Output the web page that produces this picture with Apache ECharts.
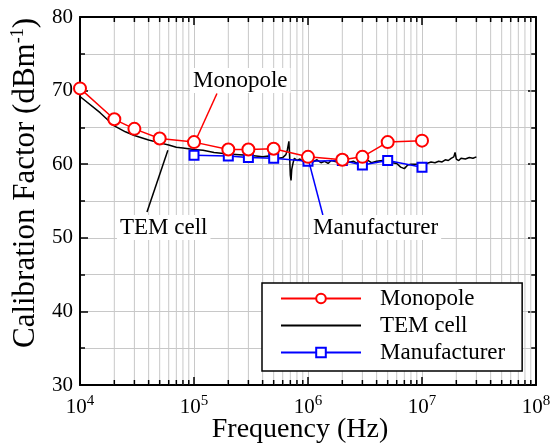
<!DOCTYPE html>
<html>
<head>
<meta charset="utf-8">
<script src="https://cdn.jsdelivr.net/npm/echarts@6/dist/echarts.min.js"></script>
<style>
html,body{margin:0;padding:0;background:#fff;}
#chart{width:553px;height:448px;}
</style>
</head>
<body>
<div id="chart"></div>
<script>
// ---- Data ----
const seriesNames = ['Monopole', 'TEM cell', 'Manufacturer'];

const monoFreq = [1e4, 2e4, 3e4, 5e4, 1e5, 2e5, 3e5, 5e5, 1e6, 2e6, 3e6, 5e6, 1e7];
const monoVal  = [70.3, 66.1, 64.8, 63.5, 63.0, 62.0, 62.0, 62.1, 61.0, 60.6, 61.0, 63.0, 63.2];

const manuFreq = [1e5, 2e5, 3e5, 5e5, 1e6, 2e6, 3e6, 5e6, 1e7];
const manuVal  = [61.2, 61.1, 60.9, 60.8, 60.4, 60.5, 59.9, 60.5, 59.6];

const temFreq = [1e4, 1.5e4, 2e4, 2.5e4, 3e4, 4e4, 5e4, 6e4, 7e4, 8e4, 1e5, 1.2e5, 1.5e5, 2e5, 2.5e5,
  3e5, 3.5e5, 4e5, 4.5e5, 5e5, 5.5e5, 6e5, 6.4e5, 6.6e5, 6.8e5, 6.9e5, 7.0e5, 7.1e5, 7.2e5, 7.4e5,
  7.6e5, 8e5, 8.5e5, 9e5, 1e6, 1.1e6, 1.2e6, 1.3e6, 1.4e6, 1.5e6, 1.6e6, 1.8e6, 2e6, 2.2e6, 2.5e6,
  2.7e6, 3e6, 3.3e6, 3.6e6, 4e6, 4.5e6, 5e6, 5.5e6, 6e6, 6.5e6, 7e6, 7.5e6, 8e6, 9e6, 1e7,
  1.1e7, 1.2e7, 1.3e7, 1.4e7, 1.5e7, 1.6e7, 1.7e7, 1.8e7, 1.9e7, 1.95e7, 2.0e7, 2.1e7, 2.2e7, 2.4e7,
  2.6e7, 2.8e7, 3e7];
const temVal = [69.2, 67.0, 65.2, 64.4, 63.9, 63.3, 62.9, 62.6, 62.3, 62.2, 62.0, 61.9, 61.6, 61.4, 61.3,
  61.2, 61.1, 61.0, 61.1, 60.9, 60.8, 60.9, 61.3, 62.0, 63.1, 61.0, 58.5, 57.8, 59.3, 60.2,
  60.8, 60.5, 60.7, 60.4, 60.5, 60.3, 60.6, 60.2, 60.4, 60.1, 60.5, 60.3, 60.4, 60.2, 60.4,
  60.1, 60.3, 60.6, 60.2, 60.4, 60.5, 60.4, 60.2, 60.1, 59.6, 59.4, 59.9, 60.0, 60.0, 60.2,
  60.1, 60.3, 60.2, 60.4, 60.3, 60.6, 60.5, 60.8, 61.0, 61.6, 60.7, 60.5, 60.8, 60.7,
  60.9, 60.8, 61.0];

const xMin = 1e4, xMax = 1e8;
const yMin = 30, yMax = 80, yStep = 10;

// log-axis minor tick positions (2..9 within each decade)
const decades = [1e4, 1e5, 1e6, 1e7];
const minorMult = [2, 3, 4, 5, 6, 7, 8, 9];

// annotation leader lines (data coords)
const monoLeader = [[1.59e5, 69.6], [1.06e5, 63.6]];
const temLeader  = [[5.9e4, 61.9], [3.87e4, 53.5]];
const manuLeader = [[1.02e6, 60.3], [1.35e6, 53.1]];

// ---- Build ----
const zip = (a, b) => a.map((v, i) => [v, b[i]]);
const FONT = 'Liberation Serif';
const gridColor = '#c8c8c8';
const minorTickData = [];
decades.forEach(d => minorMult.forEach(m => minorTickData.push([d * m, yMin])));

const chart = echarts.init(document.getElementById('chart'), null, {renderer: 'canvas'});

function supLabel(v) {
  const e = Math.round(Math.log10(v));
  return '{b|10}{s|' + e + '}';
}

const commonAxisLine = {show: true, lineStyle: {color: '#000', width: 2}};
const majorTick = {show: true, inside: true, length: 8, lineStyle: {color: '#000', width: 1.5}};

const option = {
  backgroundColor: '#fff',
  animation: false,
  grid: {left: 80, right: 17, top: 17, bottom: 63, containLabel: false, outerBoundsMode: 'none'},
  xAxis: [{
    type: 'log', logBase: 10, min: xMin, max: xMax, splitNumber: 4,
    position: 'bottom',
    axisLine: commonAxisLine,
    axisTick: majorTick,
    minorTick: {show: false},
    splitLine: {show: true, lineStyle: {color: gridColor, width: 1}},
    minorSplitLine: {show: false},
    axisLabel: {
      margin: 9, formatter: supLabel, color: '#000',
      rich: {
        b: {fontFamily: FONT, fontSize: 21, color: '#000'},
        s: {fontFamily: FONT, fontSize: 15, color: '#000', verticalAlign: 'top', padding: [0, 0, 11, 0]}
      }
    },
    name: 'Frequency (Hz)', nameLocation: 'middle', nameGap: 31, nameMoveOverlap: false,
    nameTextStyle: {fontFamily: FONT, fontSize: 28, color: '#000', padding: [0, 16, 0, 0]}
  }, {
    type: 'log', logBase: 10, min: xMin, max: xMax, splitNumber: 4,
    position: 'top',
    axisLine: commonAxisLine,
    axisTick: majorTick,
    minorTick: {show: false},
    splitLine: {show: false}, minorSplitLine: {show: false},
    axisLabel: {show: false}
  }],
  yAxis: [{
    type: 'value', min: yMin, max: yMax, interval: yStep,
    position: 'left',
    axisLine: commonAxisLine,
    axisTick: majorTick,
    minorTick: {show: true, splitNumber: 2, length: 5, lineStyle: {color: '#000', width: 1.5}},
    splitLine: {show: true, lineStyle: {color: gridColor, width: 1}},
    minorSplitLine: {show: true, lineStyle: {color: gridColor, width: 1}},
    axisLabel: {margin: 7, color: '#000', fontFamily: FONT, fontSize: 21},
    name: '{t|Calibration Factor (dBm}{s|-1}{t|)}',
    nameLocation: 'middle', nameGap: 36, nameRotate: 90,
    nameTextStyle: {
      padding: [0, 0, 0, 36],
      rich: {
        t: {fontFamily: FONT, fontSize: 31, color: '#000'},
        s: {fontFamily: FONT, fontSize: 18, color: '#000', verticalAlign: 'top', padding: [0, 0, 14, 0]}
      }
    }
  }, {
    type: 'value', min: yMin, max: yMax, interval: yStep,
    position: 'right',
    axisLine: commonAxisLine,
    axisTick: majorTick,
    minorTick: {show: true, splitNumber: 2, length: 5, lineStyle: {color: '#000', width: 1.5}},
    splitLine: {show: false}, minorSplitLine: {show: false},
    axisLabel: {show: false}
  }],
  legend: {
    data: [
      {name: 'Monopole'},
      {name: 'TEM cell', itemStyle: {opacity: 0}},
      {name: 'Manufacturer'}
    ],
    orient: 'vertical', left: 262, top: 283,
    itemWidth: 80, itemHeight: 12, itemGap: 4,
    padding: [4, 17, 7, 18],
    borderColor: '#000', borderWidth: 1.5, backgroundColor: '#fff',
    textStyle: {fontFamily: FONT, fontSize: 23, color: '#000', padding: [0, 0, 0, 14], lineHeight: 23}
  },
  graphic: [
    {type: 'text', left: 190, top: 68, z: 10,
     style: {text: 'Monopole', font: '23px "Liberation Serif"', fill: '#000', backgroundColor: '#fff', padding: [1, 3, 1, 3]}},
    {type: 'text', left: 117, top: 215, z: 10,
     style: {text: 'TEM cell', font: '23px "Liberation Serif"', fill: '#000', backgroundColor: '#fff', padding: [1, 3, 1, 3]}},
    {type: 'text', left: 310, top: 215, z: 10,
     style: {text: 'Manufacturer', font: '23px "Liberation Serif"', fill: '#000', backgroundColor: '#fff', padding: [1, 3, 1, 3]}}
  ],
  series: [{
    name: 'minor-grid', type: 'custom', z: 1, silent: true, clip: false,
    data: minorTickData,
    encode: {x: 0, y: 1},
    renderItem: function (params, api) {
      const pb = api.coord([api.value(0), yMin]);
      const pt = api.coord([api.value(0), yMax]);
      const x = pb[0];
      return {type: 'group', children: [
        {type: 'line', shape: {x1: x, y1: pb[1], x2: x, y2: pt[1]}, style: {stroke: gridColor, lineWidth: 1}},
        {type: 'line', shape: {x1: x, y1: pb[1], x2: x, y2: pb[1] - 5}, style: {stroke: '#000', lineWidth: 1.5}},
        {type: 'line', shape: {x1: x, y1: pt[1], x2: x, y2: pt[1] + 5}, style: {stroke: '#000', lineWidth: 1.5}}
      ]};
    }
  }, {
    name: 'TEM cell', type: 'line', z: 3,
    data: zip(temFreq, temVal),
    showSymbol: false, symbol: 'none',
    lineStyle: {color: '#000', width: 1.5},
    itemStyle: {color: '#000'},
    markLine: {silent: true, symbol: 'none', label: {show: false},
      lineStyle: {color: '#000', width: 1.5, type: 'solid'},
      data: [[{coord: temLeader[0]}, {coord: temLeader[1]}]]}
  }, {
    name: 'Manufacturer', type: 'line', z: 4,
    data: zip(manuFreq, manuVal),
    symbol: 'emptyRect', symbolSize: 9,
    lineStyle: {color: '#0000ff', width: 1.5},
    itemStyle: {color: '#0000ff', borderWidth: 2},
    markLine: {silent: true, symbol: 'none', label: {show: false},
      lineStyle: {color: '#0000ff', width: 1.5, type: 'solid'},
      data: [[{coord: manuLeader[0]}, {coord: manuLeader[1]}]]}
  }, {
    name: 'Monopole', type: 'line', z: 5,
    data: zip(monoFreq, monoVal),
    symbol: 'emptyCircle', symbolSize: 12,
    lineStyle: {color: '#ff0000', width: 1.5},
    itemStyle: {color: '#ff0000', borderWidth: 1.5},
    markLine: {silent: true, symbol: 'none', label: {show: false},
      lineStyle: {color: '#ff0000', width: 1.5, type: 'solid'},
      data: [[{coord: monoLeader[0]}, {coord: monoLeader[1]}]]}
  }]
};
chart.setOption(option);
</script>
</body>
</html>
